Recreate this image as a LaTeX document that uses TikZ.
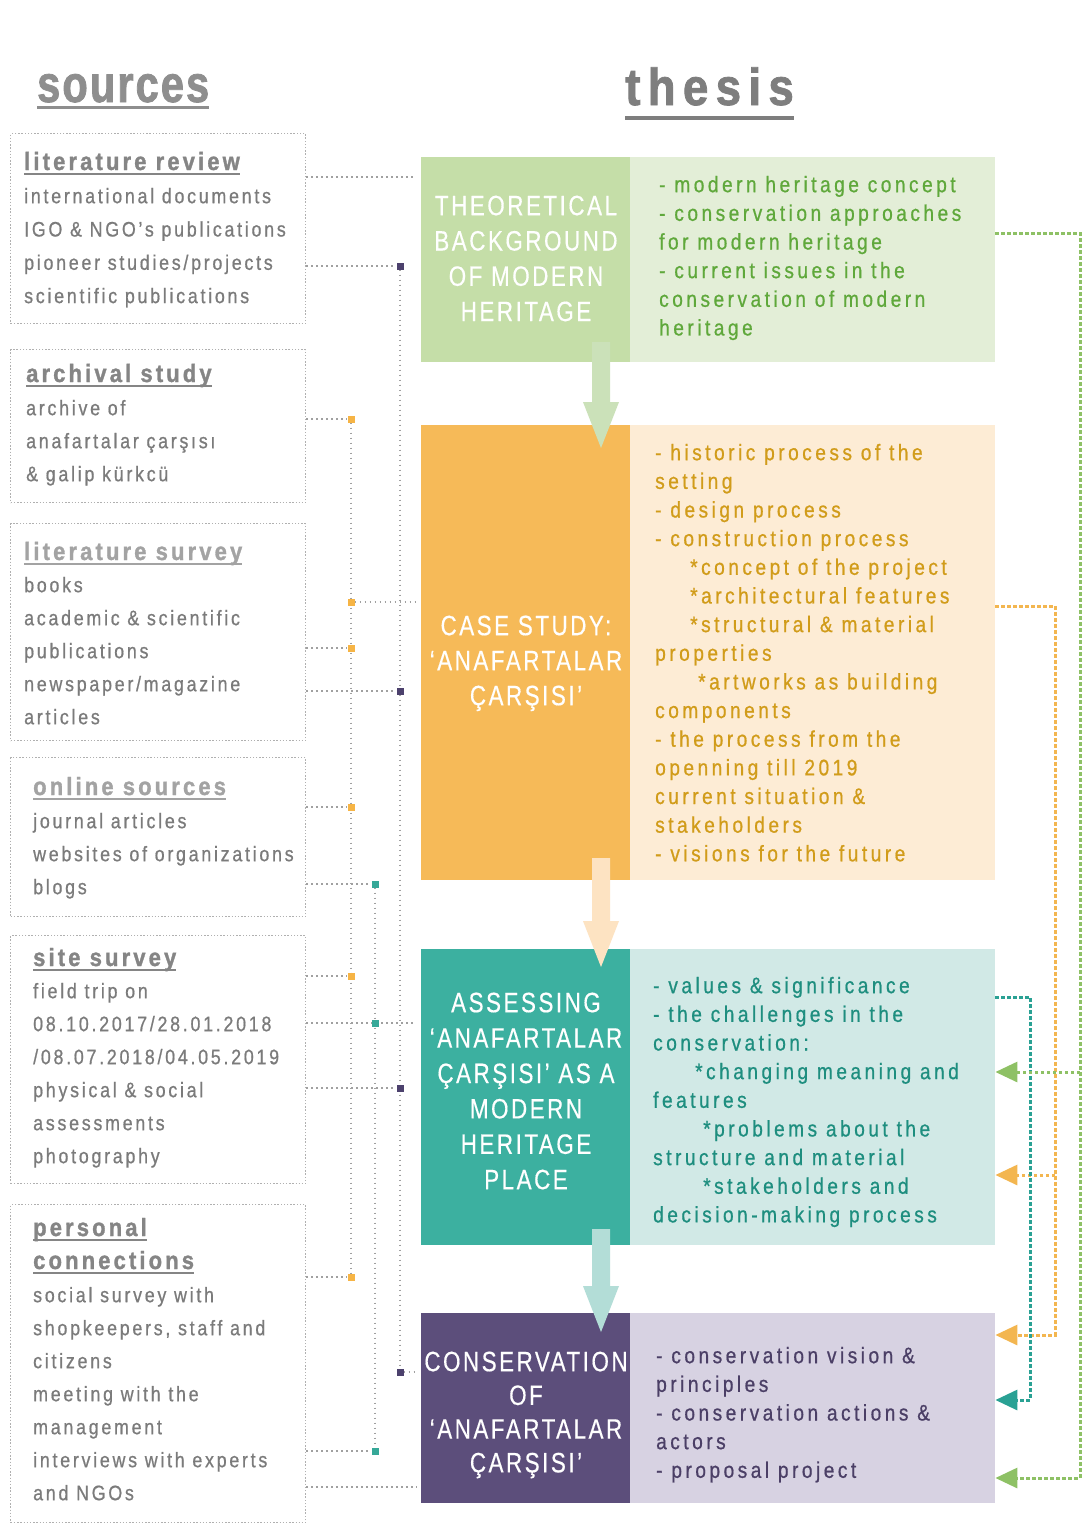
\documentclass[tikz,border=0pt]{standalone}
\usepackage{fontspec}
\setmainfont{Liberation Sans}
\newfontfamily\fbody[FakeStretch=0.85,LetterSpace=13,FakeBold=0.7]{Liberation Sans}
\newfontfamily\fright[FakeStretch=0.85,LetterSpace=15.5,FakeBold=0.7]{Liberation Sans}
\newfontfamily\fblock[FakeStretch=0.8,LetterSpace=9,FakeBold=0.4]{Liberation Sans}
\newfontfamily\fhead[FakeStretch=0.88,LetterSpace=12.5,FakeBold=1.2]{Liberation Sans}
\newfontfamily\fthesis[FakeStretch=0.88,LetterSpace=14,FakeBold=1.5]{Liberation Sans}
\newfontfamily\fsrc[FakeStretch=0.8,LetterSpace=4,FakeBold=1.5]{Liberation Sans}
\usetikzlibrary{arrows.meta,calc}
\definecolor{txtgray}{HTML}{7B7B7B}
\definecolor{hdgray}{HTML}{858585}
\definecolor{hdlight}{HTML}{A3A3A3}
\definecolor{srcgray}{HTML}{8E8E8E}
\definecolor{thgray}{HTML}{7E7E7E}
\definecolor{boxgray}{HTML}{B0B0B0}
\definecolor{dotgray}{HTML}{A0A0A0}
\definecolor{gDark}{HTML}{C5DEA8}
\definecolor{gLight}{HTML}{E3EED7}
\definecolor{gText}{HTML}{5FA83B}
\definecolor{gArrow}{HTML}{CBE1B9}
\definecolor{oDark}{HTML}{F6BA58}
\definecolor{oLight}{HTML}{FDECD5}
\definecolor{oText}{HTML}{D19C1A}
\definecolor{oArrow}{HTML}{FDE3C2}
\definecolor{tDark}{HTML}{3CB0A0}
\definecolor{tLight}{HTML}{D1E9E6}
\definecolor{tText}{HTML}{1E8E7F}
\definecolor{tArrow}{HTML}{B3DDD7}
\definecolor{pDark}{HTML}{5C4E7B}
\definecolor{pLight}{HTML}{D7D2E2}
\definecolor{pText}{HTML}{4B3F66}
\definecolor{gLine}{HTML}{8EC165}
\definecolor{oLine}{HTML}{F3B650}
\definecolor{tLine}{HTML}{2AA194}
\definecolor{sqP}{HTML}{4C416D}
\definecolor{sqO}{HTML}{F6B445}
\definecolor{sqT}{HTML}{36A898}
\newcommand\dnarrow[3]{\fill[#1] ($(#2)+(-9,0)$) -- ($(#2)+(9,0)$) -- ($(#3)+(9,-46)$) -- ($(#3)+(18,-46)$) -- (#3) -- ($(#3)+(-18,-46)$) -- ($(#3)+(-9,-46)$) -- cycle;}
\tikzset{
  srcbox/.style={draw=boxgray, line width=1.4pt, dash pattern=on 1.4pt off 1.8pt, minimum width=295pt, inner sep=0pt, anchor=north west},
  body/.style={anchor=north west, inner sep=0pt, align=left, text=txtgray, font=\fbody\fontsize{21}{33}\selectfont},
  head/.style={anchor=base west, inner sep=0pt, text=hdgray, font=\fhead\bfseries\fontsize{25}{30}\selectfont},
  ul/.style={line width=2pt, draw=#1},
  blk/.style={anchor=north west, inner sep=0pt, fill=#1},
  btitle/.style={anchor=north, inner sep=0pt, align=center, text=white, font=\fblock\fontsize{28}{35.3}\selectfont},
  rtext/.style={anchor=north west, inner sep=0pt, align=left, text=#1, font=\fright\fontsize{22.5}{28.65}\selectfont},
  conn/.style={draw=dotgray, line width=1.7pt, dash pattern=on 1.7pt off 3.3pt},
  sq/.style={fill=#1, minimum size=7pt, inner sep=0pt},
  rline/.style={draw=#1, line width=3pt, dash pattern=on 3.5pt off 2.5pt},
  tip/.style={-{Triangle[length=22pt,width=20pt]}}
}
\begin{document}
\begin{tikzpicture}[x=1pt,y=-1pt]
\useasboundingbox (0,0) rectangle (1087,1524);
\fill[white] (0,0) rectangle (1087,1524);

% titles
\node[anchor=base west, inner sep=0pt, text=srcgray, font=\fsrc\bfseries\fontsize{52}{56}\selectfont] (tsrc) at (37,102) {sources};
\draw[line width=3pt, draw=srcgray] ([yshift=-5pt]tsrc.base west) -- ([yshift=-5pt]tsrc.base east);
\node[anchor=base west, inner sep=0pt, text=thgray, font=\fthesis\bfseries\fontsize{52}{56}\selectfont] (tth) at (625,105) {thesis};
\draw[line width=3.5pt, draw=thgray] ([yshift=-13pt]tth.base west) -- ([yshift=-13pt]tth.base east);

% source boxes
\node[srcbox, minimum height=190pt] (b1) at (10,133) {};
\node[srcbox, minimum height=153pt] (b2) at (10,349) {};
\node[srcbox, minimum height=217pt] (b3) at (10,523) {};
\node[srcbox, minimum height=159pt] (b4) at (10,757) {};
\node[srcbox, minimum height=248pt] (b5) at (10,935) {};
\node[srcbox, minimum height=318pt] (b6) at (10,1204) {};

\node[head] (h1) at (24,170) {literature review};
\draw[ul=hdgray] ([yshift=-4pt]h1.base west) -- ([yshift=-4pt]h1.base east);
\node[body, font=\fbody\fontsize{21}{33.3}\selectfont] (t1) at (24,183) {\rule{0pt}{20pt}international documents\\IGO \& NGO’s publications\\pioneer studies/projects\\scientific publications};

\node[head] (h2) at (26,382) {archival study};
\draw[ul=hdgray] ([yshift=-4pt]h2.base west) -- ([yshift=-4pt]h2.base east);
\node[body] (t2) at (26,395) {\rule{0pt}{20pt}archive of\\anafartalar çarşısı\\\& galip kürkcü};

\node[head, text=hdlight] (h3) at (24,560) {literature survey};
\draw[ul=hdlight] ([yshift=-4pt]h3.base west) -- ([yshift=-4pt]h3.base east);
\node[body] (t3) at (24,572) {\rule{0pt}{20pt}books\\academic \& scientific\\publications\\newspaper/magazine\\articles};

\node[head, text=hdlight] (h4) at (33,795) {online sources};
\draw[ul=hdlight] ([yshift=-4pt]h4.base west) -- ([yshift=-4pt]h4.base east);
\node[body] (t4) at (33,808) {\rule{0pt}{20pt}journal articles\\websites of organizations\\blogs};

\node[head] (h5) at (33,966) {site survey};
\draw[ul=hdgray] ([yshift=-4pt]h5.base west) -- ([yshift=-4pt]h5.base east);
\node[body] (t5) at (33,978) {\rule{0pt}{20pt}field trip on\\08.10.2017/28.01.2018\\/08.07.2018/04.05.2019\\physical \& social\\assessments\\photography};

\node[head] (h6a) at (33,1236) {personal};
\draw[ul=hdgray] ([yshift=-4pt]h6a.base west) -- ([yshift=-4pt]h6a.base east);
\node[head] (h6b) at (33,1269) {connections};
\draw[ul=hdgray] ([yshift=-4pt]h6b.base west) -- ([yshift=-4pt]h6b.base east);
\node[body] (t6) at (33,1282) {\rule{0pt}{20pt}social survey with\\shopkeepers, staff and\\citizens\\meeting with the\\management\\interviews with experts\\and NGOs};

% thesis blocks
\node[blk=gDark, minimum width=209pt, minimum height=205pt] (gD) at (421,157) {};
\node[blk=gLight, minimum width=365pt, minimum height=205pt] (gL) at (630,157) {};
\node[blk=oDark, minimum width=209pt, minimum height=455pt] (oD) at (421,425) {};
\node[blk=oLight, minimum width=365pt, minimum height=455pt] (oL) at (630,425) {};
\node[blk=tDark, minimum width=209pt, minimum height=296pt] (tD) at (421,949) {};
\node[blk=tLight, minimum width=365pt, minimum height=296pt] (tL) at (630,949) {};
\node[blk=pDark, minimum width=209pt, minimum height=190pt] (pD) at (421,1313) {};
\node[blk=pLight, minimum width=365pt, minimum height=190pt] (pL) at (630,1313) {};

\node[btitle] (gT) at (526,189) {\rule{0pt}{26pt}THEORETICAL\\BACKGROUND\\OF MODERN\\HERITAGE};
\node[btitle, font=\fblock\fontsize{28}{35}\selectfont] (oT) at (526,609) {\rule{0pt}{26pt}CASE STUDY:\\‘ANAFARTALAR\\ÇARŞISI’};
\node[btitle, font=\fblock\fontsize{28}{35.4}\selectfont] (tT) at (526,986) {\rule{0pt}{26pt}ASSESSING\\‘ANAFARTALAR\\ÇARŞISI’ AS A\\MODERN\\HERITAGE\\PLACE};
\node[btitle, font=\fblock\fontsize{28}{33.7}\selectfont] (pT) at (526,1345) {\rule{0pt}{26pt}CONSERVATION\\OF\\‘ANAFARTALAR\\ÇARŞISI’};

\node[rtext=gText] (gR) at (659,172) {\rule{0pt}{20pt}- modern heritage concept\\- conservation approaches\\for modern heritage\\- current issues in the\\conservation of modern\\heritage};
\node[rtext=oText] (oR) at (655,440) {\rule{0pt}{20pt}- historic process of the\\setting\\- design process\\- construction process\\\hspace*{35pt}*concept of the project\\\hspace*{35pt}*architectural features\\\hspace*{35pt}*structural \& material\\properties\\\hspace*{43pt}*artworks as building\\components\\- the process from the\\openning till 2019\\current situation \&\\stakeholders\\- visions for the future};
\node[rtext=tText] (tR) at (653,973) {\rule{0pt}{20pt}- values \& significance\\- the challenges in the\\conservation:\\\hspace*{42pt}*changing meaning and\\features\\\hspace*{50pt}*problems about the\\structure and material\\\hspace*{50pt}*stakeholders and\\decision-making process};
\node[rtext=pText] (pR) at (656,1343) {\rule{0pt}{20pt}- conservation vision \&\\principles\\- conservation actions \&\\actors\\- proposal project};

% down arrows between blocks
\coordinate (a1s) at (601,342); \coordinate (a1t) at (601,448);
\coordinate (a2s) at (601,858); \coordinate (a2t) at (601,967);
\coordinate (a3s) at (601,1229); \coordinate (a3t) at (601,1332);
\dnarrow{gArrow}{a1s}{a1t}
\dnarrow{oArrow}{a2s}{a2t}
\dnarrow{tArrow}{a3s}{a3t}

% left connector squares
\node[sq=sqP] (p1) at (400,266) {};
\node[sq=sqP] (p2) at (400,691) {};
\node[sq=sqP] (p3) at (400,1088) {};
\node[sq=sqP] (p4) at (400,1372) {};
\node[sq=sqO] (o1) at (351,419) {};
\node[sq=sqO] (o2) at (351,602) {};
\node[sq=sqO] (o3) at (351,648) {};
\node[sq=sqO] (o4) at (351,807) {};
\node[sq=sqO] (o5) at (351,976) {};
\node[sq=sqO] (o6) at (351,1277) {};
\node[sq=sqT] (q1) at (375,884) {};
\node[sq=sqT] (q2) at (375,1023) {};
\node[sq=sqT] (q3) at (375,1451) {};
\coordinate (c177) at (413,177);
\coordinate (c1487) at (417,1487);

\draw[conn] (p1) -- (p4);
\draw[conn] (o1) -- (o6);
\draw[conn] (q1) -- (q3);
\draw[conn] (b1.east |- c177) -- (c177);
\draw[conn] (b1.east |- p1) -- (p1);
\draw[conn] (b2.east |- o1) -- (o1);
\draw[conn] (o2) -- ([xshift=-4pt]oD.west |- o2);
\draw[conn] (b3.east |- o3) -- (o3);
\draw[conn] (b3.east |- p2) -- (p2);
\draw[conn] (b4.east |- o4) -- (o4);
\draw[conn] (b4.east |- q1) -- (q1);
\draw[conn] (b5.east |- o5) -- (o5);
\draw[conn] (b5.east |- q2) -- ([xshift=-6pt]tD.west |- q2);
\draw[conn] (b5.east |- p3) -- (p3);
\draw[conn] (b6.east |- o6) -- (o6);
\draw[conn] (p4) -- ([xshift=-4pt]pD.west |- p4);
\draw[conn] (b6.east |- q3) -- (q3);
\draw[conn] (b6.east |- c1487) -- (c1487);
% redraw squares on top
\foreach \n/\c in {p1/sqP,p2/sqP,p3/sqP,p4/sqP,o1/sqO,o2/sqO,o3/sqO,o4/sqO,o5/sqO,o6/sqO,q1/sqT,q2/sqT,q3/sqT}
  \fill[\c] ([shift={(-3.5pt,-3.5pt)}]\n.center) rectangle ([shift={(3.5pt,3.5pt)}]\n.center);

% right feedback connectors
\coordinate (gA) at (1080,233); \coordinate (gB) at (1080,1478); \coordinate (gC) at (1080,1072);
\coordinate (oA) at (1055,606); \coordinate (oB) at (1055,1335); \coordinate (oC) at (1055,1175);
\coordinate (tA) at (1030,997); \coordinate (tB) at (1030,1400);
\draw[rline=oLine, tip] (oL.east |- oA) -- (oA) -- (oB) -- (pL.east |- oB);
\draw[rline=oLine, tip] (oC) -- (tL.east |- oC);
\draw[rline=tLine, tip] (tL.east |- tA) -- (tA) -- (tB) -- (pL.east |- tB);
\draw[rline=gLine, tip] (gL.east |- gA) -- (gA) -- (gB) -- (pL.east |- gB);
\draw[rline=gLine, tip] (gC) -- (tL.east |- gC);
\end{tikzpicture}
\end{document}
